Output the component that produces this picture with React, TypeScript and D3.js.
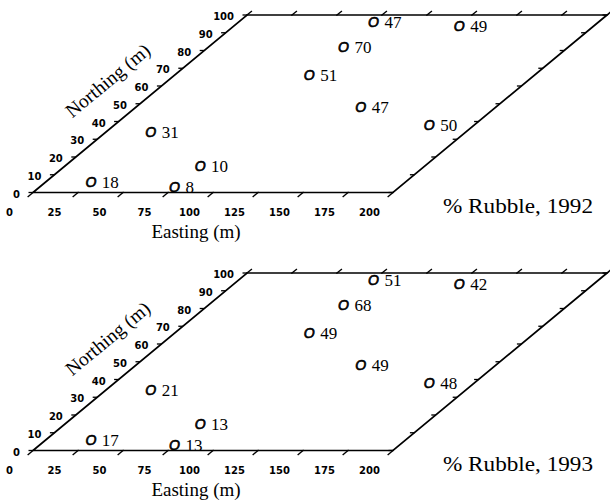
import * as d3 from 'd3';

const eastingTicks = [0, 25, 50, 75, 100, 125, 150, 175, 200];
const northingTicks = [0, 10, 20, 30, 40, 50, 60, 70, 80, 90, 100];

// sample sites (m)
const siteEasting = [25, 75, 75, 25, 75, 75, 75, 125, 125, 175];
const siteNorthing = [6, 3, 15, 34, 66, 82, 96, 94, 48, 38];

const rubble1992 = [18, 8, 10, 31, 51, 70, 47, 49, 47, 50];
const rubble1993 = [17, 13, 13, 21, 49, 68, 51, 42, 49, 48];

const panelTitles = ['% Rubble, 1992', '% Rubble, 1993'];

const W = 610;
const H = 504;
const PANEL_STEP = 258;

const xE = d3.scaleLinear().domain([0, 200]).range([33, 393]);
const yN = d3.scaleLinear().domain([0, 100]).range([192.5, 15]);
const shearN = d3.scaleLinear().domain([0, 100]).range([0, 214]);

const proj = (e: number, n: number): [number, number] => [xE(e) + shearN(n), yN(n)];

const serif = '"Liberation Serif", "Times New Roman", serif';
const sans = '"DejaVu Sans", sans-serif';

const Panel = ({ values, title, dy }: { values: number[]; title: string; dy: number }) => {
  const line = d3.line();
  const corners = [proj(0, 0), proj(200, 0), proj(200, 100), proj(0, 100), proj(0, 0)];
  const angle = (Math.atan2(yN(0) - yN(100), shearN(100)) * 180) / Math.PI;

  return (
    <g transform={`translate(0, ${dy})`}>
      <path d={line(corners) as string} fill="none" stroke="#000" strokeWidth={1.7} />

      {/* easting ticks, bottom and top edges */}
      {eastingTicks.map((e) => (
        <g key={'e' + e}>
          <path d={line([proj(e, -2.5), proj(e, 0.3)]) as string} stroke="#000" strokeWidth={1.4} />
          <path d={line([proj(e, 99.7), proj(e, 102.3)]) as string} stroke="#000" strokeWidth={1.4} />
          <text
            x={proj(e, -11)[0]}
            y={proj(e, -11)[1]}
            dy="0.35em"
            textAnchor="middle"
            fontFamily={sans}
            fontWeight="bold"
            fontSize={10}
          >
            {e}
          </text>
        </g>
      ))}

      {/* northing ticks, left and right edges */}
      {northingTicks.map((n) => {
        const [lx, ly] = proj(0, n);
        const [rx, ry] = proj(200, n);
        return (
          <g key={'n' + n}>
            <line x1={lx - 4.5} y1={ly} x2={lx} y2={ly} stroke="#000" strokeWidth={1.3} />
            <line x1={rx - 4.5} y1={ry} x2={rx} y2={ry} stroke="#000" strokeWidth={1.3} />
            <text
              x={lx - 13}
              y={ly + 1.5}
              dy="0.35em"
              textAnchor="end"
              fontFamily={sans}
              fontWeight="bold"
              fontSize={10}
            >
              {n}
            </text>
          </g>
        );
      })}

      <text x={196} y={yN(0) + 45} textAnchor="middle" fontFamily={serif} fontSize={19}>
        Easting (m)
      </text>
      <text
        transform={`translate(112, 85.5) rotate(${-angle})`}
        textAnchor="middle"
        fontFamily={serif}
        fontSize={19.5}
      >
        Northing (m)
      </text>

      {values.map((v, i) => {
        const [px, py] = proj(siteEasting[i], siteNorthing[i]);
        return (
          <g key={'s' + i}>
            <text
              x={px}
              y={py}
              dy="0.35em"
              textAnchor="middle"
              fontFamily='"Liberation Sans", Arial, sans-serif'
              fontStyle="italic"
              fontSize={14}
              stroke="#000"
              strokeWidth={0.7}
            >
              O
            </text>
            <text x={px + 11} y={py + 6} fontFamily={serif} fontSize={17}>
              {v}
            </text>
          </g>
        );
      })}

      <text
        x={443}
        y={213}
        fontFamily={serif}
        fontSize={21}
        textLength={150}
        lengthAdjust="spacingAndGlyphs"
      >
        {title}
      </text>
    </g>
  );
};

export default function App() {
  return (
    <svg
      width={W}
      height={H}
      style={{ position: 'absolute', left: 0, top: 0, background: '#fff' }}
    >
      <Panel values={rubble1992} title={panelTitles[0]} dy={0} />
      <Panel values={rubble1993} title={panelTitles[1]} dy={PANEL_STEP} />
    </svg>
  );
}
